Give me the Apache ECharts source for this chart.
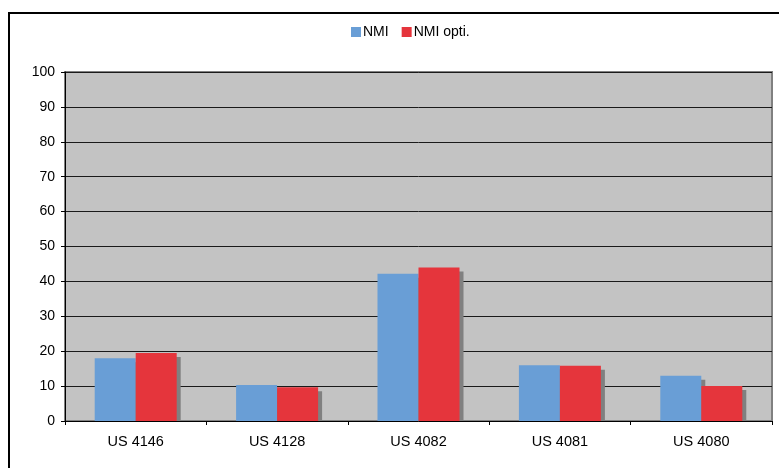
<!DOCTYPE html>
<html>
<head>
<meta charset="utf-8">
<script src="https://cdn.jsdelivr.net/npm/echarts@6/dist/echarts.min.js"></script>
<style>
html,body{margin:0;padding:0;background:#fff;}
#c{width:779px;height:468px;}
</style>
</head>
<body>
<div id="c"></div>
<script>
var categories = ['US 4146', 'US 4128', 'US 4082', 'US 4081', 'US 4080'];
var seriesNames = ['NMI', 'NMI opti.'];
var nmi = [18, 10.3, 42.2, 16, 13];
var nmiOpti = [19.5, 9.7, 44, 15.8, 10];

var chart = echarts.init(document.getElementById('c'), null, {renderer: 'canvas'});
var font = 'Liberation Sans, Arial, sans-serif';
var barStyle = function (color) {
  return {
    color: color,
    shadowColor: '#808080',
    shadowBlur: 0,
    shadowOffsetX: 4,
    shadowOffsetY: 4
  };
};
chart.setOption({
  animation: false,
  backgroundColor: '#ffffff',
  textStyle: {fontFamily: font},
  graphic: [{
    type: 'rect',
    shape: {x: 9, y: 13, width: 800, height: 500},
    style: {fill: 'none', stroke: '#000', lineWidth: 2},
    silent: true,
    z: 100
  }, {
    type: 'rect',
    shape: {x: 66, y: 422, width: 720, height: 8},
    style: {fill: '#fff'},
    silent: true,
    z: 5
  }],
  legend: {
    top: 20,
    left: 346,
    itemWidth: 10,
    itemHeight: 10,
    itemGap: 13,
    icon: 'rect',
    textStyle: {fontFamily: font, fontSize: 14, color: '#000', padding: [0, 0, 0, -3]},
    data: seriesNames
  },
  grid: {
    left: 65,
    right: 7,
    top: 72,
    bottom: 47,
    show: true,
    backgroundColor: '#c3c3c3',
    borderColor: '#808080',
    borderWidth: 2
  },
  xAxis: {
    type: 'category',
    data: categories,
    z: 10,
    axisLine: {lineStyle: {color: '#000', width: 1}},
    axisTick: {show: true, length: 4, lineStyle: {color: '#000'}},
    axisLabel: {color: '#000', fontSize: 14.5, fontFamily: font, margin: 13}
  },
  yAxis: {
    type: 'value',
    min: 0,
    max: 100,
    interval: 10,
    axisLine: {show: true, lineStyle: {color: '#000', width: 1}},
    axisTick: {show: true, length: 4, lineStyle: {color: '#000'}},
    axisLabel: {color: '#000', fontSize: 14, fontFamily: font, margin: 10},
    splitLine: {show: true, lineStyle: {color: '#1a1a1a', width: 1}}
  },
  series: [{
    name: seriesNames[0],
    type: 'bar',
    data: nmi,
    barWidth: 41,
    barGap: '0%',
    itemStyle: barStyle('#699ed6')
  }, {
    name: seriesNames[1],
    type: 'bar',
    data: nmiOpti,
    barWidth: 41,
    barGap: '0%',
    itemStyle: barStyle('#e5353c')
  }]
});
</script>
</body>
</html>
